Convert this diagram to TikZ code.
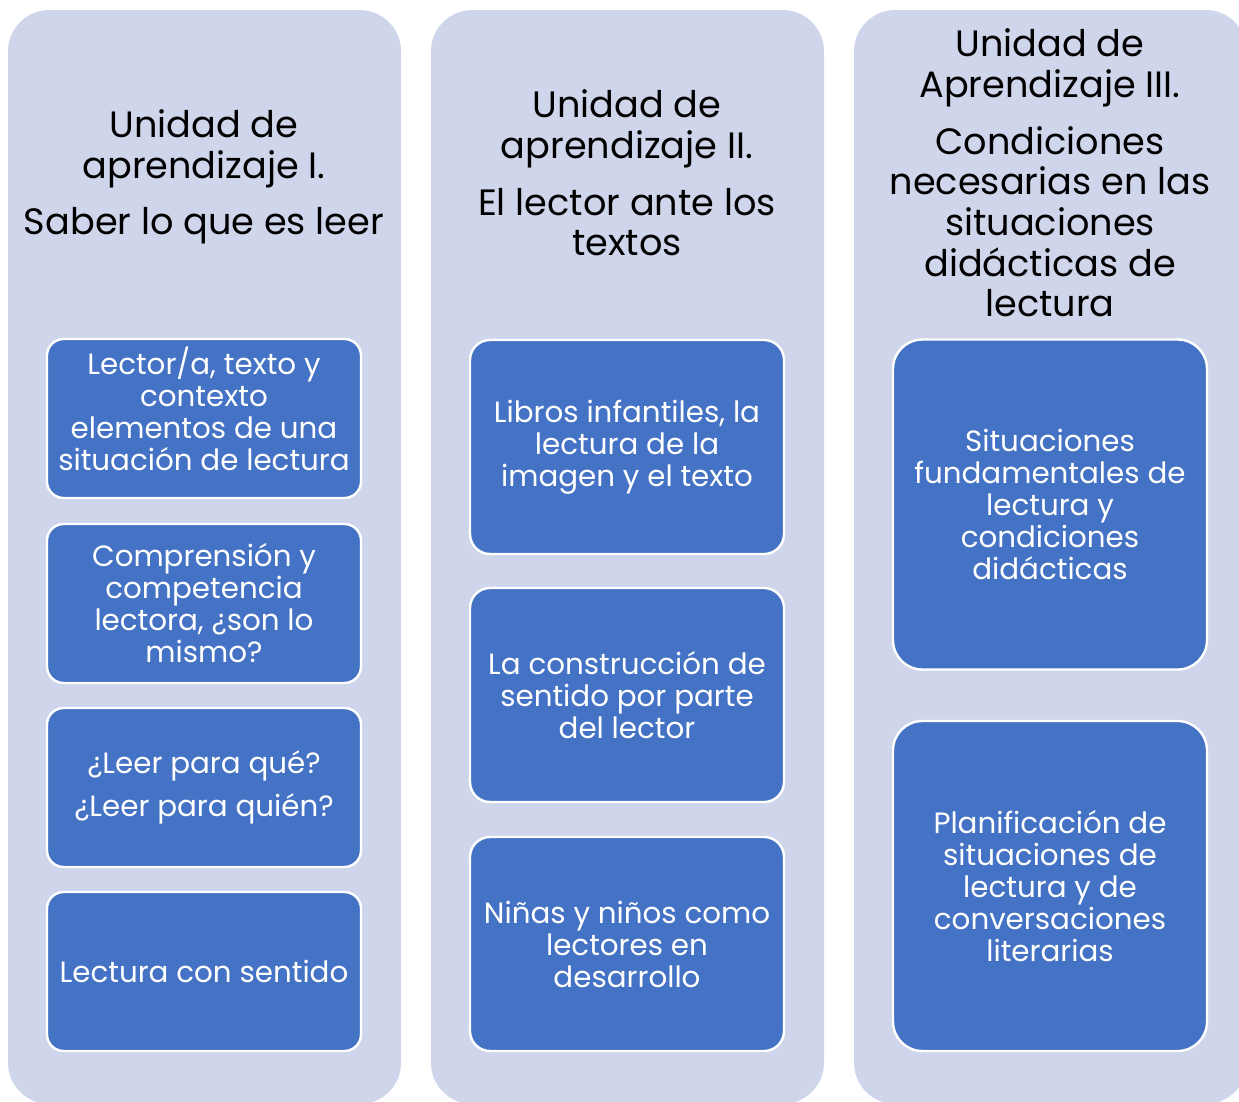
\documentclass[tikz,border=0pt]{standalone}
\usepackage{fontspec}
\setmainfont{Poppins}
\usepackage{xcolor}
\definecolor{unitbg}{RGB}{207,213,234}
\definecolor{unitblue}{RGB}{68,114,196}
\usetikzlibrary{positioning}

\tikzset{
  unitcol/.style={fill=unitbg, rounded corners=31pt},
  unithead/.style={align=center, text=black, inner sep=0pt, font=\fontsize{27.5}{30.5}\selectfont},
  topicbox/.style={draw=white, line width=1.8pt, fill=unitblue, text=white, align=center,
    inner sep=0pt, minimum width=235.5pt, font=\fontsize{22}{24}\selectfont},
  shortbox/.style={topicbox, minimum height=119.25pt, rounded corners=12.5pt},
  midbox/.style={topicbox, minimum height=160.5pt, rounded corners=15pt},
  tallbox/.style={topicbox, minimum height=247.5pt, rounded corners=22pt},
}

\begin{document}
\begin{tikzpicture}[x=0.75pt, y=-0.75pt]
  \useasboundingbox (0,0) rectangle (1239,1101);
  \clip (0,0) rectangle (1239,1101);

  % Column backgrounds
  \fill[unitcol] (8,10) rectangle (401,1104);
  \fill[unitcol] (431,10) rectangle (824,1104);
  \fill[unitcol] (854,10) rectangle (1247,1104);

  % Headings
  \node[unithead] (headA) at (204,177) {Unidad de\\aprendizaje I.\\[12pt]Saber lo que es leer};
  \node[unithead] (headB) at (627,173) {Unidad de\\aprendizaje II.\\[12pt]El lector ante los\\textos};
  \node[unithead] (headC) at (1050,173) {Unidad de\\Aprendizaje III.\\[12pt]Condiciones\\necesarias en las\\situaciones\\didácticas de\\lectura};

  % Unit I topics
  \node[shortbox, text depth=15pt] (topA1) at (204,418.5) {Lector/a, texto y\\contexto\\elementos de una\\situación de lectura};
  \node[shortbox] (topA2) at (204,603.5) {Comprensión y\\competencia\\lectora, ¿son lo\\mismo?};
  \node[shortbox] (topA3) at (204,787.5) {¿Leer para qué?\\[8pt]¿Leer para quién?};
  \node[shortbox] (topA4) at (204,971.5) {Lectura con sentido};

  % Unit II topics
  \node[midbox] (topB1) at (627,447) {Libros infantiles, la\\lectura de la\\imagen y el texto};
  \node[midbox] (topB2) at (627,695) {La construcción de\\sentido por parte\\del lector};
  \node[midbox] (topB3) at (627,944) {Niñas y niños como\\lectores en\\desarrollo};

  % Unit III topics
  \node[tallbox] (topC1) at (1050,504.5) {Situaciones\\fundamentales de\\lectura y\\condiciones\\didácticas};
  \node[tallbox] (topC2) at (1050,886) {Planificación de\\situaciones de\\lectura y de\\conversaciones\\literarias};
\end{tikzpicture}
\end{document}
